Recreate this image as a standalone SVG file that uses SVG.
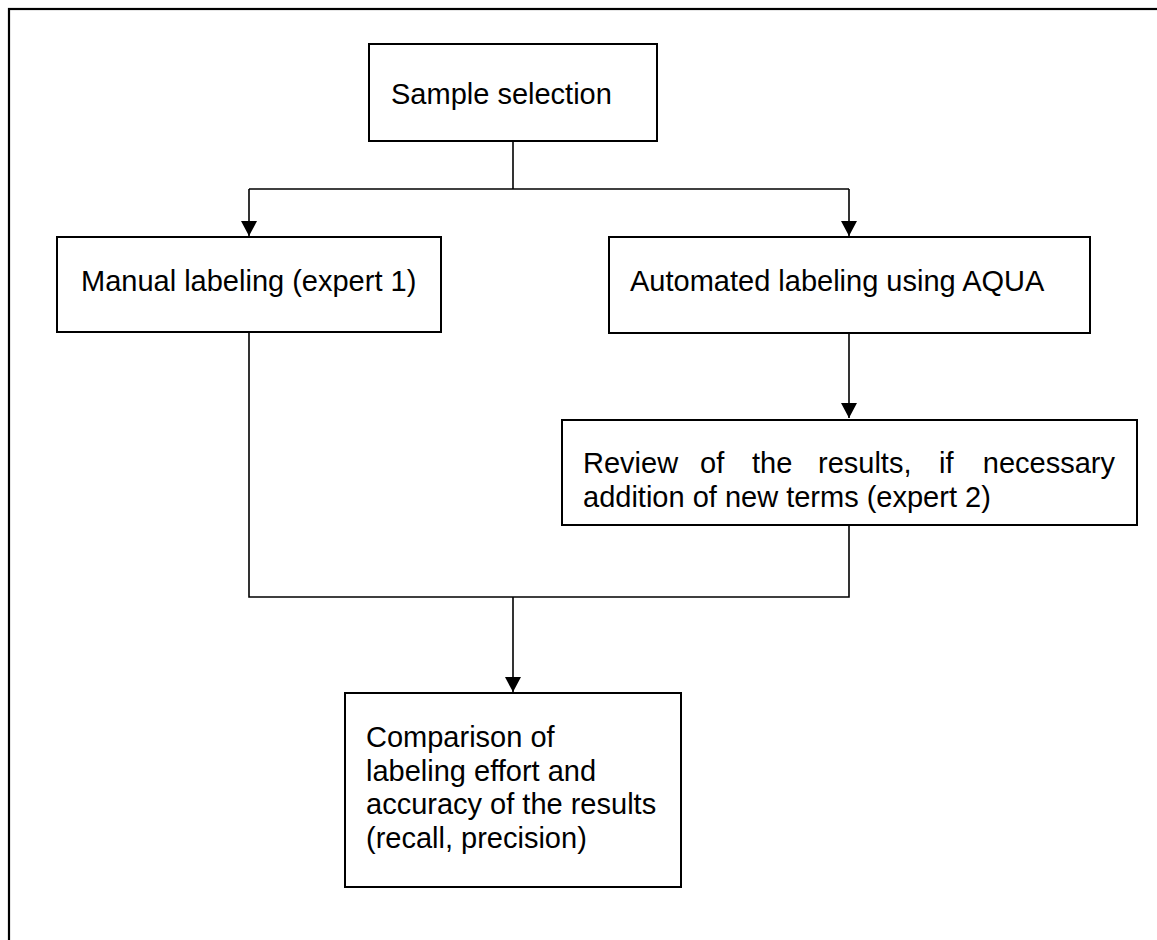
<svg xmlns="http://www.w3.org/2000/svg" width="1157" height="940" viewBox="0 0 1157 940">
<style>
.box{fill:#fff;stroke:#000;stroke-width:2}
.t{font-family:"Liberation Sans",Arial,sans-serif;font-size:29px;fill:#000}
.c{fill:none;stroke:#000;stroke-width:1.6}
</style>
<defs>
<marker id="ah" markerUnits="userSpaceOnUse" markerWidth="16" markerHeight="16" viewBox="0 0 16 16" refX="15" refY="8" orient="auto">
<path d="M0,0 L15,8 L0,16 Z" fill="#000"/>
</marker>
</defs>
<rect x="0" y="0" width="1157" height="940" fill="#fff"/>
<rect x="9" y="9" width="1160" height="945" fill="none" stroke="#000" stroke-width="2.2"/>
<g id="connectors">
<path class="c" d="M513,141 V189"/>
<path class="c" d="M249,189 H849"/>
<path class="c" d="M249,189 V236" marker-end="url(#ah)"/>
<path class="c" d="M849,189 V236" marker-end="url(#ah)"/>
<path class="c" d="M849,333 V418" marker-end="url(#ah)"/>
<path class="c" d="M249,332 V597 H849 V525"/>
<path class="c" d="M513,597 V692" marker-end="url(#ah)"/>
</g>
<g id="sample">
<rect class="box" x="369" y="44" width="288" height="97"/>
<text class="t" x="391" y="104">Sample selection</text>
</g>
<g id="manual">
<rect class="box" x="57" y="237" width="384" height="95"/>
<text class="t" x="81" y="291">Manual labeling (expert 1)</text>
</g>
<g id="automated">
<rect class="box" x="609" y="237" width="481" height="96"/>
<text class="t" x="630" y="291">Automated labeling using AQUA</text>
</g>
<g id="review">
<rect class="box" x="562" y="420" width="575" height="105"/>
<text class="t" y="473"><tspan x="583">Review</tspan><tspan x="700">of</tspan><tspan x="752">the</tspan><tspan x="818">results,</tspan><tspan x="939">if</tspan><tspan x="1115" text-anchor="end">necessary</tspan></text>
<text class="t" x="583" y="507">addition of new terms (expert 2)</text>
</g>
<g id="comparison">
<rect class="box" x="345" y="693" width="336" height="194"/>
<text class="t" x="366" y="747">Comparison of</text>
<text class="t" x="366" y="780.5">labeling effort and</text>
<text class="t" x="366" y="814">accuracy of the results</text>
<text class="t" x="366" y="847.5">(recall, precision)</text>
</g>
</svg>
